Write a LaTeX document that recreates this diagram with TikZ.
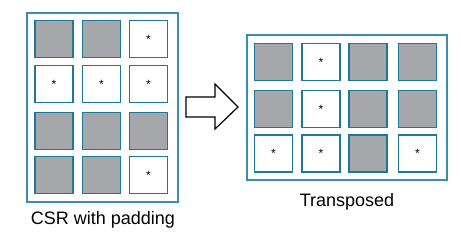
\documentclass[tikz,border=0pt]{standalone}
\usepackage{fontspec}
\setmainfont{Liberation Sans}
\definecolor{frame}{HTML}{3A8DB2}
\definecolor{cellb}{HTML}{1E7898}
\definecolor{fillg}{HTML}{A6A7AA}
\begin{document}
\begin{tikzpicture}[x=1pt,y=-1pt,
  outer/.style={draw=frame,line width=1.3pt},
  cellbox/.style={draw=cellb,line width=1.6pt,fill=white,minimum width=38pt,minimum height=37pt,inner sep=0pt,
    font=\fontsize{12}{12}\selectfont},
  pad/.style={cellbox,fill=fillg},
  lbl/.style={font=\fontsize{18}{20}\selectfont}]
\useasboundingbox (0,0) rectangle (461,240);
% left frame
\draw[outer] (27,13) rectangle (178,202);
\foreach \r/\y in {1/39,2/84,3/131,4/175}{
  \foreach \c/\x in {1/54,2/101.5,3/148.5}{
    \coordinate (L\r\c) at (\x,\y);
  }}
\node[pad] (a11) at (L11) {};
\node[pad] (a12) at (L12) {};
\node[cellbox] (a13) at (L13) {*};
\node[cellbox] (a21) at (L21) {*};
\node[cellbox] (a22) at (L22) {*};
\node[cellbox] (a23) at (L23) {*};
\node[pad] (a31) at (L31) {};
\node[pad] (a32) at (L32) {};
\node[pad] (a33) at (L33) {};
\node[pad] (a41) at (L41) {};
\node[pad] (a42) at (L42) {};
\node[cellbox] (a43) at (L43) {*};
\node[lbl] (lt) at (103,220) {CSR with padding};
% arrow
\draw[line width=1.2pt,fill=white,line join=miter]
  (186,97) -- (215,97) -- (215,84) -- (238,107) -- (215,129) -- (215,117) -- (186,117) -- cycle;
% right frame
\draw[outer] (247,35) rectangle (447,180);
\foreach \r/\y in {1/62,2/109,3/153.5}{
  \foreach \c/\x in {1/273.5,2/321,3/368,4/417.5}{
    \coordinate (R\r\c) at (\x,\y);
  }}
\node[pad] (b11) at (R11) {};
\node[cellbox] (b12) at (R12) {*};
\node[pad] (b13) at (R13) {};
\node[pad] (b14) at (R14) {};
\node[pad] (b21) at (R21) {};
\node[cellbox] (b22) at (R22) {*};
\node[pad] (b23) at (R23) {};
\node[pad] (b24) at (R24) {};
\node[cellbox] (b31) at (R31) {*};
\node[cellbox] (b32) at (R32) {*};
\node[pad] (b33) at (R33) {};
\node[cellbox] (b34) at (R34) {*};
\node[lbl] (rt) at (347,202) {Transposed};
\end{tikzpicture}
\end{document}
